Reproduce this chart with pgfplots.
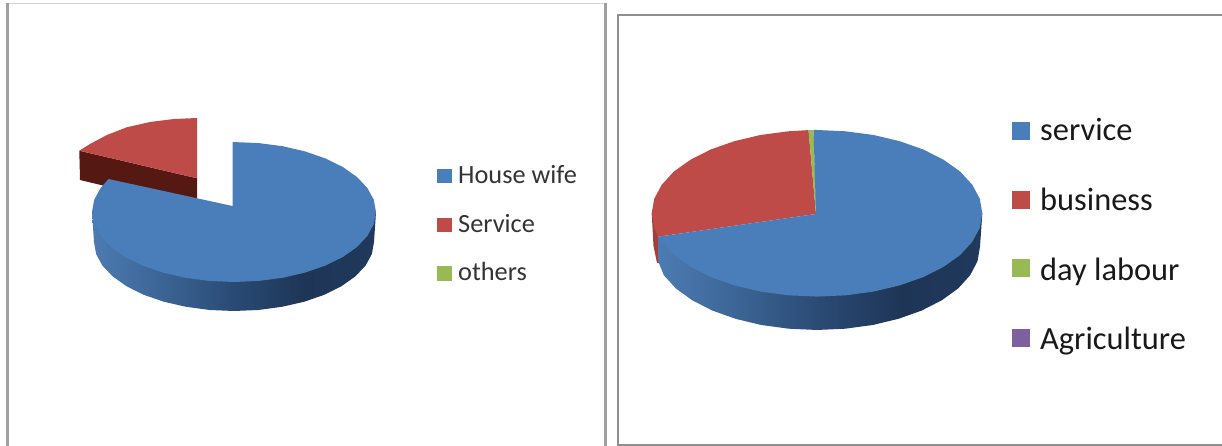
\documentclass[border=0pt]{standalone}
\usepackage{pgfplots}
\pgfplotsset{compat=1.18}
\usepackage{fontspec}
\setmainfont{Carlito}
\definecolor{pieblue}{HTML}{4A7EBB}
\definecolor{piered}{HTML}{BE4B48}
\definecolor{piegreen}{HTML}{98B954}
\definecolor{piepurple}{HTML}{7D60A0}
\definecolor{darkred}{HTML}{561812}
\definecolor{framegray}{HTML}{8E8E8E}
\definecolor{toplight}{HTML}{D2D2D2}
\definecolor{sa}{HTML}{4C7BB3}
\definecolor{sb}{HTML}{3B6494}
\definecolor{sc}{HTML}{2A4A74}
\definecolor{sd}{HTML}{1E3556}
\definecolor{se}{HTML}{20395C}
\pgfdeclarehorizontalshading{pieside}{100bp}{color(0bp)=(sa); color(25bp)=(sa); color(37.5bp)=(sb); color(50bp)=(sc); color(62.5bp)=(sd); color(75bp)=(se); color(100bp)=(se)}
\tikzset{legendtext/.style={anchor=base west, inner sep=0pt}}
\begin{document}
\begin{tikzpicture}
\begin{axis}[
  scale only axis, width=1222pt, height=446pt,
  xmin=0, xmax=1222, ymin=0, ymax=446, y dir=reverse,
  axis lines=none, clip=true,
]
% keep the whole canvas in the page box
\path (axis cs:0,0) rectangle (axis cs:1222,446);
% panel frames
\addplot[toplight, line width=1.6pt] coordinates {(7,3.5) (605,3.5)};
\addplot[framegray!85, line width=2.6pt] coordinates {(7.5,3) (7.5,446)};
\addplot[framegray!85, line width=2.6pt] coordinates {(605.5,3) (605.5,446)};
\addplot[framegray, line width=2pt] coordinates {(617.8,446) (617.8,15) (1222,15)};
\addplot[framegray, line width=2pt] coordinates {(617.8,444.6) (1222,444.6)};

% left pie: detached Service slice, dark cut face first
\addplot[draw=none, fill=darkred] coordinates {(79.3,150.7) (197,178.3) (197,208) (80,180)} --cycle;
\addplot[draw=none, fill=piered] coordinates {
 (197,118) (174,119) (150,122) (126.7,127.3) (107,135) (90,144) (79.3,150.7) (197,178.3)} --cycle;
% left pie: House wife rim
\addplot[draw=none, shading=pieside] coordinates {
 (376,212) (374,242) (371.9,254) (365.6,265.6) (355.2,276.5) (341.2,286.4) (324,294.9) (304,301.8)
 (281.9,306.8) (258.3,310) (234,311) (209.7,310) (186.1,306.8) (164,301.8) (144,294.9) (126.8,286.4)
 (112.8,276.5) (102.4,265.6) (96.1,254) (94,242) (92,212)} --cycle;
% left pie: House wife top face
\addplot[draw=none, fill=pieblue] coordinates {
 (232.5,142) (258.7,143.1) (282.6,146.2) (305,151.4) (325.3,158.4) (342.8,167) (357,177) (367.4,188.1)
 (373.8,199.8) (376,212) (373.8,224.2) (367.4,235.9) (357,247) (342.8,257) (325.3,265.6) (305,272.6)
 (282.6,277.8) (258.7,280.9) (234,282) (209.3,280.9) (185.4,277.8) (163,272.6) (142.7,265.6) (125.2,257)
 (111,247) (100.6,235.9) (94.2,224.2) (92,212) (94.2,199.8) (100.6,188.1) (108.5,179) (232.5,206)} --cycle;

% left legend swatches
\addplot[draw=none, fill=pieblue] coordinates {(437,169) (452,169) (452,183.5) (437,183.5)} --cycle;
\addplot[draw=none, fill=piered] coordinates {(437,218) (452,218) (452,232.5) (437,232.5)} --cycle;
\addplot[draw=none, fill=piegreen] coordinates {(437,266) (452,266) (452,280.5) (437,280.5)} --cycle;
\node[legendtext, text=black!80, font=\fontsize{26.3}{30}\selectfont] at (axis cs:458,183.5) {House wife};
\node[legendtext, text=black!80, font=\fontsize{26.3}{30}\selectfont] at (axis cs:458,233) {Service};
\node[legendtext, text=black!80, font=\fontsize{26.3}{30}\selectfont] at (axis cs:458,280.5) {others};

% right pie: business rim, mostly hidden
\addplot[draw=none, fill=piered!85!black] coordinates {(651.7,213.3) (653.5,246) (657,263) (660,263) (658.3,236.7)} --cycle;
% right pie: service rim
\addplot[draw=none, shading=pieside] coordinates {
 (982.3,213.3) (980,246.7) (977.5,261.2) (970.2,275.2) (958.2,288.4) (941.9,300.2) (921.8,310.5) (898.5,318.8)
 (872.7,325) (845.3,328.7) (817,330) (788.7,328.7) (761.3,325) (735.5,318.8) (712.2,310.5) (692.1,300.2)
 (675.8,288.4) (663.8,275.2) (658.5,262) (658.3,236.7)} --cycle;
% right pie: top faces
\addplot[draw=none, fill=piered] coordinates {
 (808.5,130.1) (788.3,131.3) (760.5,135) (734.3,141.2) (710.7,149.5) (690.4,159.8) (673.8,171.6) (661.7,184.8)
 (654.2,198.8) (651.7,213.3) (654.2,227.8) (658.3,236.7) (816,214)} --cycle;
\addplot[draw=none, fill=piegreen] coordinates {(808.5,130.1) (813.5,130) (816.5,214) (816,214)} --cycle;
\addplot[draw=none, fill=pieblue] coordinates {
 (813.5,130) (817,130) (845.7,131.3) (873.5,135) (899.7,141.2) (923.3,149.5) (943.6,159.8) (960.2,171.6)
 (972.3,184.8) (979.8,198.8) (982.3,213.3) (979.8,227.8) (972.3,241.8) (960.2,255) (943.6,266.8) (923.3,277.1)
 (899.7,285.4) (873.5,291.6) (845.7,295.3) (817,296.6) (788.3,295.3) (760.5,291.6) (734.3,285.4) (710.7,277.1)
 (690.4,266.8) (673.8,255) (661.7,241.8) (658.3,236.7) (816,214)} --cycle;

% right legend swatches
\addplot[draw=none, fill=pieblue] coordinates {(1012,122) (1030,122) (1030,140) (1012,140)} --cycle;
\addplot[draw=none, fill=piered] coordinates {(1012,191) (1030,191) (1030,209) (1012,209)} --cycle;
\addplot[draw=none, fill=piegreen] coordinates {(1012,259) (1030,259) (1030,277) (1012,277)} --cycle;
\addplot[draw=none, fill=piepurple] coordinates {(1012,329) (1030,329) (1030,347) (1012,347)} --cycle;
\node[legendtext, text=black!90, font=\fontsize{32.4}{36}\selectfont] at (axis cs:1040,141) {service};
\node[legendtext, text=black!90, font=\fontsize{32.4}{36}\selectfont] at (axis cs:1040,211) {business};
\node[legendtext, text=black!90, font=\fontsize{32.4}{36}\selectfont] at (axis cs:1040,280) {day labour};
\node[legendtext, text=black!90, font=\fontsize{32.4}{36}\selectfont] at (axis cs:1040,349) {Agriculture};
\end{axis}
\end{tikzpicture}
\end{document}
